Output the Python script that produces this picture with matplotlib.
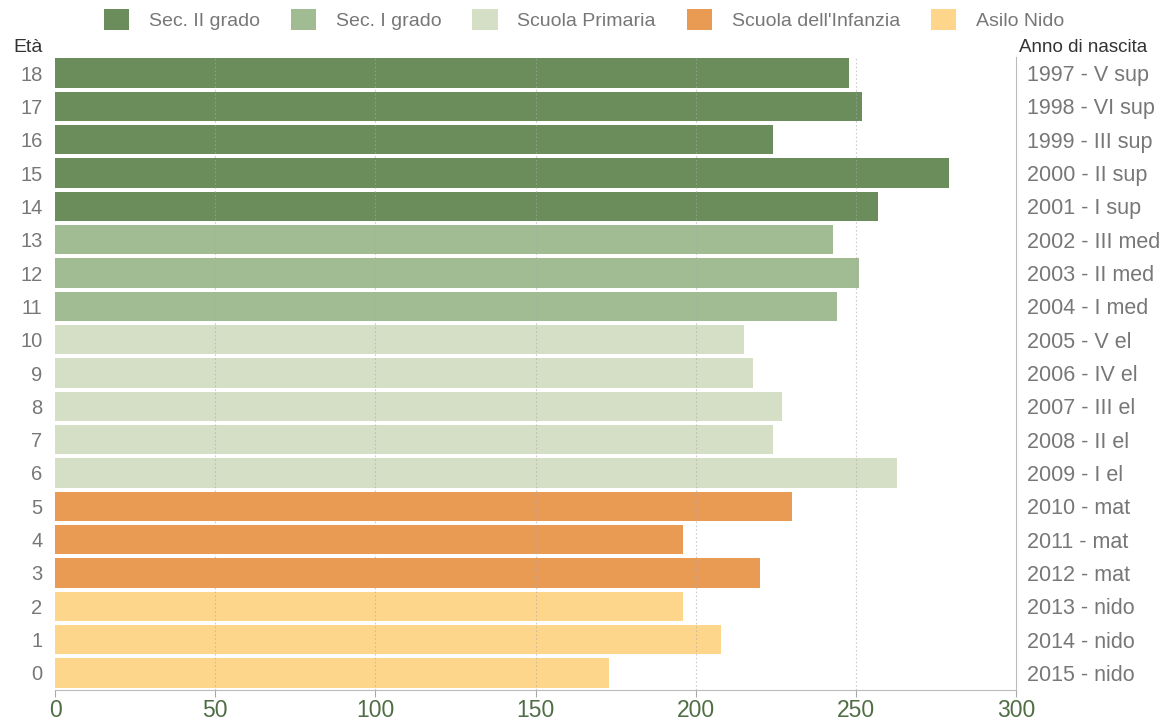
import matplotlib
matplotlib.use("Agg")
import matplotlib.pyplot as plt
from matplotlib.patches import Patch

ages = list(range(0, 19))
values = [173, 208, 196, 220, 196, 230, 263, 224, 227, 218, 215, 244, 251, 243, 257, 279, 224, 252, 248]
birth_labels = ["2015 - nido", "2014 - nido", "2013 - nido", "2012 - mat", "2011 - mat", "2010 - mat",
                "2009 - I el", "2008 - II el", "2007 - III el", "2006 - IV el", "2005 - V el",
                "2004 - I med", "2003 - II med", "2002 - III med", "2001 - I sup", "2000 - II sup",
                "1999 - III sup", "1998 - VI sup", "1997 - V sup"]
groups = ["Asilo Nido"] * 3 + ["Scuola dell'Infanzia"] * 3 + ["Scuola Primaria"] * 5 + \
         ["Sec. I grado"] * 3 + ["Sec. II grado"] * 5
legend_order = ["Sec. II grado", "Sec. I grado", "Scuola Primaria", "Scuola dell'Infanzia", "Asilo Nido"]
colors = {"Sec. II grado": "#6b8c5b", "Sec. I grado": "#a1bb93", "Scuola Primaria": "#d5dfc6",
          "Scuola dell'Infanzia": "#e99a53", "Asilo Nido": "#fdd68c"}
xticks = [0, 50, 100, 150, 200, 250, 300]

plt.rcParams['font.family'] = ['Liberation Sans', 'DejaVu Sans']

fig = plt.figure(figsize=(11.65, 7.22), dpi=100)
ax = fig.add_axes([55 / 1165, 1 - 689.5 / 722, (1016 - 55) / 1165, (689.5 - 56.5) / 722])

ax.barh(ages, values, height=0.88, color=[colors[g] for g in groups], zorder=2)
ax.set_xlim(0, 300)
ax.set_ylim(-0.5, 18.5)

ax.set_xticks(xticks)
ax.set_xticklabels([str(t) for t in xticks], fontsize=16.5, color="#4f6e45")
ax.tick_params(axis="x", length=5, color="#aaaaaa", pad=2)
ax.set_yticks(ages)
ax.set_yticklabels([str(a) for a in ages], fontsize=14.5, color="#777777")
ax.tick_params(axis="y", length=0, pad=9)

for x in xticks[1:-1]:
    ax.axvline(x, color="#aaaaaa", lw=0.8, ls=(0, (1.5, 2)), alpha=0.6, zorder=3)

for s in ["top", "left"]:
    ax.spines[s].set_visible(False)
ax.spines["bottom"].set_color("#bbbbbb")
ax.spines["right"].set_color("#bbbbbb")

ax2 = ax.twinx()
ax2.set_ylim(ax.get_ylim())
ax2.set_yticks(ages)
ax2.set_yticklabels(birth_labels, fontsize=15.5, color="#777777")
ax2.tick_params(axis="y", length=0, pad=8)
for s in ["top", "left", "bottom", "right"]:
    ax2.spines[s].set_visible(False)

fig.text(13 / 1165, 1 - 47 / 722, "Età", fontsize=14, color="#333333", va="center", ha="left")
fig.text(1019 / 1165, 1 - 47 / 722, "Anno di nascita", fontsize=13.5, color="#333333", va="center", ha="left")

handles = [Patch(facecolor=colors[g], edgecolor="none") for g in legend_order]
fig.legend(handles, legend_order, loc="upper center", bbox_to_anchor=(584 / 1165, 1.006),
           ncol=5, frameon=False, fontsize=14, labelcolor="#777777",
           handlelength=1.3, handleheight=1.3, handletextpad=1.0, columnspacing=1.6,
           borderaxespad=0.3)

fig.savefig("out.png", dpi=100, facecolor="white")
